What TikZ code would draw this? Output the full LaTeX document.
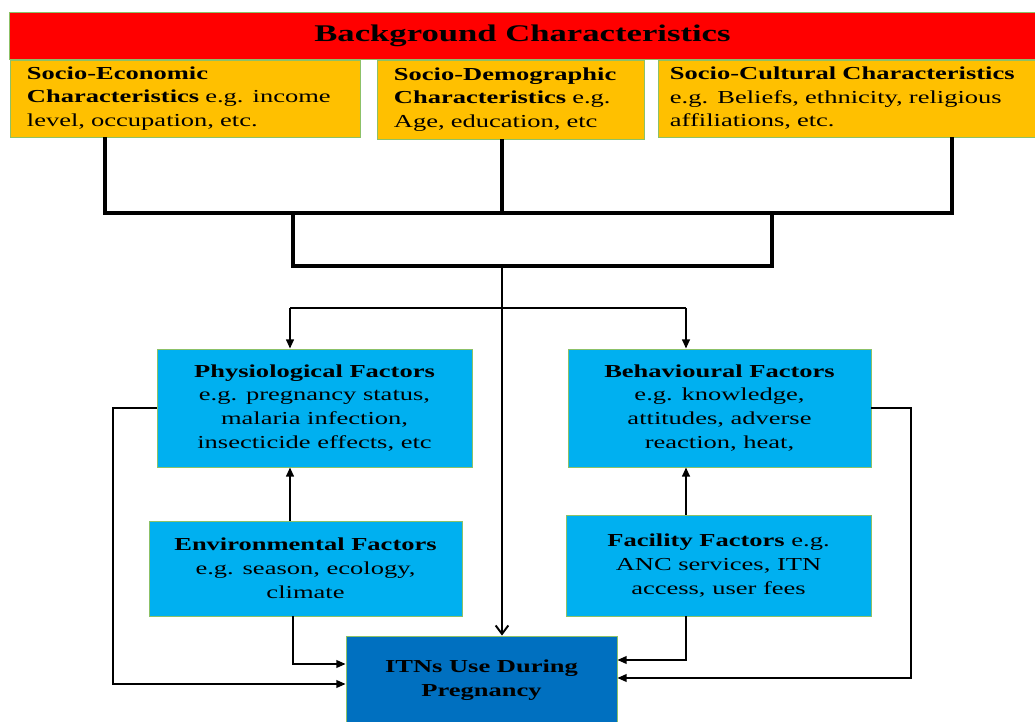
\documentclass[tikz,border=0pt]{standalone}
\usepackage{fontspec}
\setmainfont{Liberation Serif}[FakeStretch=1.45]
\usepackage{tikz}
\usetikzlibrary{arrows.meta}
\definecolor{barred}{HTML}{FF0000}
\definecolor{boxorange}{HTML}{FFC000}
\definecolor{boxblue}{HTML}{00B0F0}
\definecolor{boxdark}{HTML}{0070C0}
\definecolor{boxline}{HTML}{8CC168}

\begin{document}
\begin{tikzpicture}[
      x=0.025cm, y=-0.025cm,
      box/.style={
        draw=boxline, line width=0.6pt,
        inner sep=0pt, align=center,
        font=\fontsize{13pt}{17pt}\selectfont
      },
      topbox/.style={
        box, fill=boxorange, align=left,
        inner xsep=0.425cm, font=\fontsize{13pt}{16.7pt}\selectfont
      },
      tree/.style={line width=2.2pt},
      arr/.style={line width=1.3pt, -{Triangle[length=6.5pt,width=5.5pt]}},
      side/.style={line width=1pt, -{Triangle[length=6.5pt,width=5.5pt]}}
    ]
      \useasboundingbox (0,0) rectangle (1035,722);

      % background block
      \node[box, fill=barred, minimum width=25.625cm, minimum height=1.175cm,
        font=\fontsize{17pt}{20pt}\selectfont\bfseries] (bg) at (522.5,35.5)
        {Background Characteristics};
      \node[topbox, minimum width=8.75cm, minimum height=1.925cm,
        text width=7.9cm] (socEco) at (185,98.5)
        {\textbf{Socio-Economic}\\ \textbf{Characteristics} e.g. income\\ level, occupation, etc.};
      \node[topbox, minimum width=6.675cm, minimum height=1.975cm,
        text width=5.825cm] (socDem) at (510.5,99.5)
        {\textbf{Socio-Demographic}\\ \textbf{Characteristics} e.g.\\ Age, education, etc};
      \node[topbox, minimum width=9.425cm, minimum height=1.925cm,
        inner xsep=0.3cm, text width=8.825cm] (socCul) at (846.5,98.5)
        {\textbf{Socio-Cultural Characteristics}\\ e.g. Beliefs, ethnicity, religious\\ affiliations, etc.};

      % factor blocks
      \node[box, fill=boxblue, minimum width=7.875cm, minimum height=2.95cm] (phys) at (314.5,408)
        {\textbf{Physiological Factors}\\ e.g. pregnancy status,\\ malaria infection,\\ insecticide effects, etc};
      \node[box, fill=boxblue, minimum width=7.575cm, minimum height=2.95cm] (behav) at (719.5,408)
        {\textbf{Behavioural Factors}\\ e.g. knowledge,\\ attitudes, adverse\\ reaction, heat,};
      \node[box, fill=boxblue, minimum width=7.825cm, minimum height=2.375cm] (env) at (305.5,568.5)
        {\textbf{Environmental Factors}\\ e.g. season, ecology,\\ climate};
      \node[box, fill=boxblue, minimum width=7.625cm, minimum height=2.525cm] (facil) at (718.5,565.5)
        {\textbf{Facility Factors} e.g.\\ ANC services, ITN\\ access, user fees};
      \node[box, fill=boxdark, minimum width=6.775cm, minimum height=2.2cm,
        font=\fontsize{13pt}{17pt}\selectfont\bfseries] (itn) at (481.5,680)
        {ITNs Use During\\ Pregnancy};

      % junctions
      \coordinate (jL) at (105,213);
      \coordinate (jM) at (502,213);
      \coordinate (jR) at (952,213);
      \coordinate (kL) at (293,266);
      \coordinate (kM) at (502,266);
      \coordinate (kR) at (772,266);
      \coordinate (sL) at (290,308);
      \coordinate (sR) at (686,308);
      \coordinate (pL) at (113,684);
      \coordinate (eB) at (293,664);
      \coordinate (fB) at (686,660);
      \coordinate (bR) at (911,678);

      \draw[tree] (socEco.south -| jL) -- (jL) -- (jR) -- (socCul.south -| jR);
      \draw[tree] (socDem.south -| jM) -- (jM);
      \draw[tree] (kL |- jL) -- (kL) -- (kR) -- (kR |- jR);
      \draw[line width=1.4pt, -{Straight Barb[length=6pt,width=9pt]}] (kM) -- (itn.north -| kM);
      \draw[line width=2pt] (sL) -- (sR);
      \draw[arr] (sL) -- (phys.north -| sL);
      \draw[arr] (sR) -- (behav.north -| sR);

      \draw[arr] (env.north -| sL) -- (phys.south -| sL);
      \draw[arr] (facil.north -| sR) -- (behav.south -| sR);

      \draw[side] (phys.west) -| (pL) -- (itn.west |- pL);
      \draw[side] (env.south -| eB) -- (eB) -- (itn.west |- eB);
      \draw[side] (facil.south -| fB) -- (fB) -- (itn.east |- fB);
      \draw[side] (behav.east) -| (bR) -- (itn.east |- bR);
    \end{tikzpicture}
\end{document}
